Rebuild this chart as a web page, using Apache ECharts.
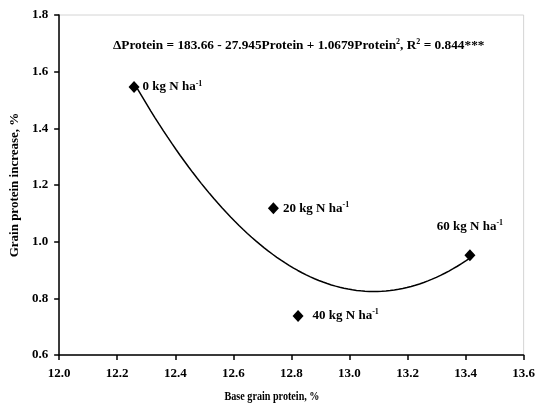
<!DOCTYPE html>
<html>
<head>
<meta charset="utf-8">
<script src="https://cdn.jsdelivr.net/npm/echarts@6/dist/echarts.min.js"></script>
<style>
  html, body { margin: 0; padding: 0; background: #fff; }
  #chart { width: 538px; height: 404px; }
</style>
</head>
<body>
<div id="chart"></div>
<script>
// data
const rates = ['0', '20', '40', '60'];           // kg N ha-1
const baseProtein = [12.258, 12.738, 12.823, 13.415];
const proteinIncrease = [1.546, 1.118, 0.738, 0.952];
const xTicks = [12.0, 12.2, 12.4, 12.6, 12.8, 13.0, 13.2, 13.4, 13.6];
const yTicks = [0.6, 0.8, 1.0, 1.2, 1.4, 1.6, 1.8];

const FONT = '"Liberation Serif", "DejaVu Serif", serif';

// least squares quadratic through the points (the trendline of the plot)
function quadFit(xs, ys) {
  const m = xs.reduce((a, b) => a + b, 0) / xs.length;
  let S = [0, 0, 0, 0, 0], T = [0, 0, 0];
  xs.forEach((x, i) => {
    const u = x - m;
    for (let k = 0; k < 5; k++) S[k] += Math.pow(u, k);
    for (let k = 0; k < 3; k++) T[k] += Math.pow(u, k) * ys[i];
  });
  // 3x3 normal equations, Cramer
  const A = [[S[0], S[1], S[2]], [S[1], S[2], S[3]], [S[2], S[3], S[4]]];
  const det = M => M[0][0] * (M[1][1] * M[2][2] - M[1][2] * M[2][1])
    - M[0][1] * (M[1][0] * M[2][2] - M[1][2] * M[2][0])
    + M[0][2] * (M[1][0] * M[2][1] - M[1][1] * M[2][0]);
  const D = det(A);
  const coef = [0, 1, 2].map(c => det(A.map((row, r) => row.map((v, j) => j === c ? T[r] : v))) / D);
  return x => coef[0] + coef[1] * (x - m) + coef[2] * (x - m) * (x - m);
}
const f = quadFit(baseProtein, proteinIncrease);
const x0 = Math.min(...baseProtein), x1 = Math.max(...baseProtein);
const curve = [];
for (let i = 0; i <= 80; i++) {
  const x = x0 + (x1 - x0) * i / 80;
  curve.push([x, f(x)]);
}

const labelRich = {
  a: { fontFamily: FONT, fontWeight: 'bold', fontSize: 13, color: '#000' },
  s: { fontFamily: FONT, fontWeight: 'bold', fontSize: 8, color: '#000', padding: [0, 0, 7, 0] }
};
const titleRich = {
  a: { fontFamily: FONT, fontWeight: 'bold', fontSize: 13.3, color: '#000' },
  s: { fontFamily: FONT, fontWeight: 'bold', fontSize: 8, color: '#000', padding: [0, 0, 7, 0] }
};
const labelPos = [
  { position: 'right', distance: 3 },
  { position: 'right', distance: 4 },
  { position: 'right', distance: 9 },
  { position: 'top', distance: 15 }
];
const points = baseProtein.map((x, i) => ({
  value: [x, proteinIncrease[i]],
  label: Object.assign({
    show: true,
    formatter: '{a|' + rates[i] + ' kg N ha}{s|-1}',
    rich: labelRich
  }, labelPos[i])
}));

const axisFont = { fontFamily: FONT, fontWeight: 'bold', fontSize: 13, color: '#000' };

const chart = echarts.init(document.getElementById('chart'));
chart.setOption({
  animation: false,
  title: {
    text: '{a|\u0394Protein = 183.66 - 27.945Protein + 1.0679Protein}{s|2}{a|, R}{s|2}{a| = 0.844***}',
    left: 113,
    top: 38,
    padding: 0,
    textStyle: { rich: titleRich }
  },
  // x axis title is drawn narrower in the original
  graphic: [{
    type: 'text',
    x: 272, y: 397,
    scaleX: 0.78,
    style: {
      text: 'Base grain protein, %',
      font: 'bold 13px ' + FONT,
      fill: '#000',
      textAlign: 'center',
      textVerticalAlign: 'middle'
    }
  }],
  grid: {
    left: 56, right: 13, top: 15, bottom: 49,
    show: true, borderColor: '#d4d4d4', borderWidth: 1
  },
  xAxis: {
    type: 'value',
    min: xTicks[0], max: xTicks[xTicks.length - 1], interval: 0.2,
    axisLine: { lineStyle: { color: '#000', width: 1.5 } },
    axisTick: { inside: false, length: 5, lineStyle: { color: '#000', width: 1.5 } },
    axisLabel: Object.assign({ margin: 12, formatter: v => v.toFixed(1) }, axisFont),
    splitLine: { show: false }
  },
  yAxis: {
    type: 'value',
    min: yTicks[0], max: yTicks[yTicks.length - 1], interval: 0.2,
    name: 'Grain protein increase, %',
    nameLocation: 'middle', nameGap: 38,
    nameTextStyle: axisFont,
    axisLine: { lineStyle: { color: '#000', width: 1.5 } },
    axisTick: { inside: false, length: 5, lineStyle: { color: '#000', width: 1.5 } },
    axisLabel: Object.assign({ margin: 11, formatter: v => v.toFixed(1) }, axisFont),
    splitLine: { show: false }
  },
  series: [
    {
      type: 'line',
      data: curve,
      showSymbol: false,
      lineStyle: { color: '#000', width: 1.5 },
      z: 2
    },
    {
      type: 'scatter',
      data: points,
      symbol: 'diamond',
      symbolSize: [11, 12],
      itemStyle: { color: '#000', opacity: 1 },
      z: 3
    }
  ]
});
</script>
</body>
</html>
